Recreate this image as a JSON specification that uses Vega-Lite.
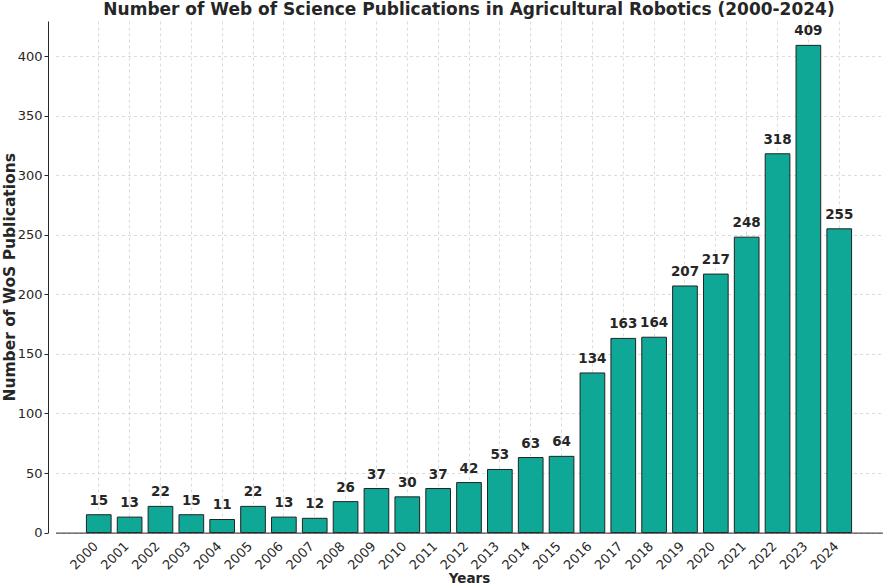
{
  "$schema": "https://vega.github.io/schema/vega-lite/v6.json",
  "width": 842,
  "height": 511.6,
  "autosize": {"type": "none"},
  "padding": {"left": 48, "top": 21, "right": 2, "bottom": 52},
  "background": "white",
  "config": {
    "font": "DejaVu Sans",
    "view": {"stroke": null},
    "axis": {
      "domainColor": "#262626",
      "domainWidth": 1,
      "tickColor": "#262626",
      "tickWidth": 1,
      "labelColor": "#262626",
      "labelFont": "DejaVu Sans",
      "labelFontSize": 13,
      "titleColor": "#262626",
      "titleFont": "DejaVu Sans",
      "titleFontWeight": "bold",
      "gridColor": "#b0b0b0",
      "gridOpacity": 0.6,
      "gridDash": [3, 3],
      "gridWidth": 0.8,
      "zindex": 1
    }
  },
  "title": {
    "text": "Number of Web of Science Publications in Agricultural Robotics (2000-2024)",
    "font": "DejaVu Sans",
    "fontSize": 17,
    "fontWeight": "bold",
    "color": "#262626",
    "anchor": "middle",
    "baseline": "alphabetic",
    "offset": 6,
    "dy": 17.5
  },
  "data": {
    "values": [
      {"year": "2000", "pubs": 15},
      {"year": "2001", "pubs": 13},
      {"year": "2002", "pubs": 22},
      {"year": "2003", "pubs": 15},
      {"year": "2004", "pubs": 11},
      {"year": "2005", "pubs": 22},
      {"year": "2006", "pubs": 13},
      {"year": "2007", "pubs": 12},
      {"year": "2008", "pubs": 26},
      {"year": "2009", "pubs": 37},
      {"year": "2010", "pubs": 30},
      {"year": "2011", "pubs": 37},
      {"year": "2012", "pubs": 42},
      {"year": "2013", "pubs": 53},
      {"year": "2014", "pubs": 63},
      {"year": "2015", "pubs": 64},
      {"year": "2016", "pubs": 134},
      {"year": "2017", "pubs": 163},
      {"year": "2018", "pubs": 164},
      {"year": "2019", "pubs": 207},
      {"year": "2020", "pubs": 217},
      {"year": "2021", "pubs": 248},
      {"year": "2022", "pubs": 318},
      {"year": "2023", "pubs": 409},
      {"year": "2024", "pubs": 255}
    ]
  },
  "encoding": {
    "x": {
      "field": "year",
      "type": "ordinal",
      "title": "Years",
      "scale": {"paddingInner": 0.2, "paddingOuter": 1, "range": [7.56, 834.44]},
      "axis": {
        "labelAngle": -45,
        "labelAlign": "right",
        "labelBaseline": "top",
        "labelOffset": -7,
        "tickSize": -4,
        "labelPadding": 11,
        "grid": true,
        "titleFontSize": 13.5,
        "titleBaseline": "alphabetic",
        "titleY": 50
      }
    },
    "y": {
      "field": "pubs",
      "type": "quantitative",
      "title": "Number of WoS Publications",
      "scale": {"domain": [0, 429.45], "nice": false, "zero": true},
      "axis": {
        "values": [0, 50, 100, 150, 200, 250, 300, 350, 400],
        "tickSize": 4,
        "labelPadding": 2,
        "titleFontSize": 15.5,
        "titleBaseline": "alphabetic",
        "titleX": -34
      }
    }
  },
  "layer": [
    {
      "mark": {"type": "bar", "color": "#0fa896", "stroke": "#222222", "strokeWidth": 1}
    },
    {
      "mark": {
        "type": "text",
        "fontWeight": "bold",
        "fontSize": 13.5,
        "color": "#262626",
        "baseline": "alphabetic",
        "dy": -10
      },
      "encoding": {"text": {"field": "pubs", "type": "quantitative"}}
    }
  ]
}
